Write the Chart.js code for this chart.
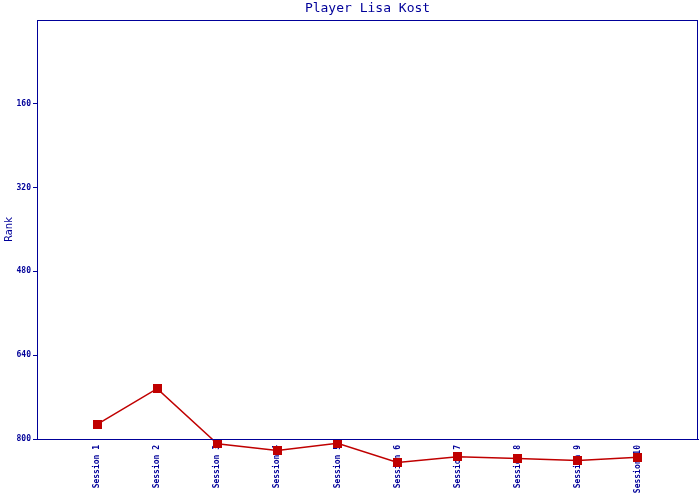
<!DOCTYPE html>
<html>
<head>
<meta charset="utf-8">
<script src="https://cdn.jsdelivr.net/npm/chart.js@4/dist/chart.umd.min.js"></script>
<style>
    html, body { margin: 0; padding: 0; background: #ffffff; }
    #wrap { width: 700px; height: 500px; }
</style>
</head>
<body>
<div id="wrap"><canvas id="rankChart" width="700" height="500"></canvas></div>
<script>
// chart data
const chartTitle = 'Player Lisa Kost';
const sessions = ['Session 1', 'Session 2', 'Session 3', 'Session 4', 'Session 5',
                  'Session 6', 'Session 7', 'Session 8', 'Session 9', 'Session 10'];
const ranks = [772, 704, 809, 822, 808, 845, 834, 837, 841, 835];
const rankTicks = [160, 320, 480, 640, 800];

const navy = '#000099';
const red = '#c00000';
const markerSide = 9;

// title centred over the plot area, a frame round it,
// and square markers (drawn here so the ones below the axis are not dropped)
const framePlugin = {
    id: 'frame',
    afterDatasetsDraw(chart) {
        const { ctx } = chart;
        const meta = chart.getDatasetMeta(0);
        ctx.save();
        ctx.fillStyle = red;
        meta.data.forEach(pt => {
            ctx.fillRect(Math.round(pt.x - markerSide / 2), Math.round(pt.y - markerSide / 2),
                markerSide, markerSide);
        });
        ctx.restore();
    },
    afterDraw(chart) {
        const { ctx, chartArea } = chart;
        ctx.save();
        ctx.strokeStyle = navy;
        ctx.lineWidth = 1;
        ctx.strokeRect(chartArea.left + 0.5, chartArea.top + 0.5,
            chartArea.right - chartArea.left - 1, chartArea.bottom - chartArea.top);
        ctx.fillStyle = navy;
        ctx.font = '13px "DejaVu Sans Mono"';
        ctx.textAlign = 'center';
        ctx.textBaseline = 'middle';
        ctx.fillText(chartTitle, (chartArea.left + chartArea.right) / 2, 9);
        ctx.restore();
    }
};

const points = ranks.map((r, i) => ({ x: i + 1, y: r }));

new Chart(document.getElementById('rankChart'), {
    type: 'line',
    data: {
        datasets: [{
            label: 'Rank',
            data: points,
            borderColor: red,
            backgroundColor: red,
            borderWidth: 1.5,
            tension: 0,
            pointRadius: 0,
            clip: false
        }]
    },
    options: {
        responsive: false,
        animation: false,
        layout: { padding: { top: 20, right: 2, left: 0, bottom: 0 } },
        plugins: {
            legend: { display: false },
            title: { display: false },
            tooltip: { enabled: false }
        },
        scales: {
            x: {
                type: 'linear',
                min: 0,
                max: sessions.length + 1,
                grid: { display: false, drawTicks: false },
                border: { color: navy, width: 1 },
                ticks: {
                    stepSize: 1,
                    autoSkip: false,
                    maxRotation: 90,
                    minRotation: 90,
                    padding: 6,
                    color: navy,
                    font: { family: 'DejaVu Sans Mono', size: 8, weight: 'bold' },
                    callback: (v) => sessions[v - 1] || ''
                },
                afterFit: (scale) => {
                    scale.height = 61;
                    scale.paddingLeft = 0;
                    scale.paddingRight = 0;
                }
            },
            y: {
                reverse: true,
                min: 0,
                max: 800,
                grid: { drawOnChartArea: false, drawTicks: true, tickLength: 4, color: navy },
                border: { color: navy, width: 1 },
                afterBuildTicks: (scale) => {
                    scale.ticks = rankTicks.map(v => ({ value: v }));
                },
                ticks: {
                    padding: 2,
                    color: navy,
                    font: { family: 'DejaVu Sans Mono', size: 8, weight: 'bold' },
                    callback: (v) => String(v)
                },
                title: {
                    display: true,
                    text: 'Rank',
                    color: navy,
                    padding: { top: 3, bottom: 0 },
                    font: { family: 'DejaVu Sans', size: 10 }
                },
                afterFit: (scale) => {
                    scale.width = 37;
                    scale.paddingTop = 0;
                    scale.paddingBottom = 0;
                }
            }
        }
    },
    plugins: [framePlugin]
});
</script>
</body>
</html>
